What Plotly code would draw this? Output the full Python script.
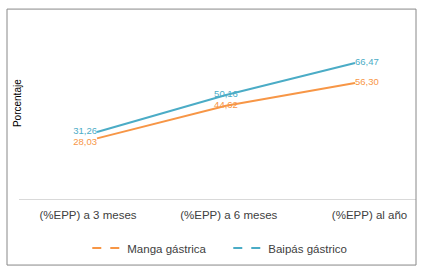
import plotly.graph_objects as go

categories = ["(%EPP) a 3 meses", "(%EPP) a 6 meses", "(%EPP) al año"]
manga = [28.03, 44.62, 56.30]
baipas = [31.26, 50.16, 66.47]
series_names = ["Manga gástrica", "Baipás gástrico"]
colors = ["#F79646", "#4BACC6"]

def fmt(v):
    return f"{v:.2f}".replace(".", ",")

idx = list(range(len(categories)))
fig = go.Figure()
for name, vals, col, pos in [
    (series_names[0], manga, colors[0], ["bottom left", "middle center", "middle right"]),
    (series_names[1], baipas, colors[1], ["middle left", "middle center", "middle right"]),
]:
    fig.add_trace(go.Scatter(
        x=idx, y=vals, mode="lines+text", name=name,
        line=dict(color=col, width=2),
        text=[fmt(v) for v in vals], textposition=pos,
        textfont=dict(color=col, size=9.5, family="Liberation Sans, Arial"),
        showlegend=False, cliponaxis=False,
    ))
for name, col in zip(series_names, colors):
    fig.add_trace(go.Scatter(
        x=[None], y=[None], mode="lines", name=name,
        line=dict(color=col, width=2, dash="dash"),
    ))

fig.add_trace(go.Scatter(x=idx, y=[None]*3, xaxis="x2", showlegend=False, hoverinfo="skip"))

fig.update_layout(
    width=423, height=271,
    margin=dict(l=19, r=7, t=20, b=72),
    paper_bgcolor="white", plot_bgcolor="white",
    font=dict(family="Liberation Sans, Arial", size=11.5, color="#404040"),
    xaxis=dict(range=[-0.605, 2.473], visible=False, showgrid=False, zeroline=False),
    xaxis2=dict(overlaying="x", anchor="y", side="bottom", range=[-0.49, 2.33],
                tickmode="array", tickvals=idx, ticktext=categories,
                showline=True, linecolor="#D9D9D9", linewidth=1,
                showgrid=False, zeroline=False,
                ticks="outside", ticklen=5, tickcolor="rgba(0,0,0,0)",
                tickfont=dict(size=11.5, color="#404040")),
    yaxis=dict(range=[-2.9, 88.4], showticklabels=False, showgrid=False, zeroline=False),
    legend=dict(orientation="h", x=0.172, xanchor="left", y=-0.274, yanchor="middle",
                font=dict(size=11.5, color="#404040"), itemwidth=30,
                entrywidth=96, entrywidthmode="pixels"),
    showlegend=True,
    shapes=[dict(type="rect", xref="paper", yref="paper", x0=-0.0302, x1=1.0, y0=-0.369, y1=1.061,
                 line=dict(color="#888888", width=1))],
    annotations=[dict(text="Porcentaje", xref="paper", yref="paper", x=-0.005, y=0.536,
                      textangle=-90, showarrow=False, xanchor="center", yanchor="middle",
                      font=dict(size=10, color="#000000"))],
)
fig.write_html("out.html", config={"displayModeBar": False},
               post_script="document.body.style.margin='0';")
